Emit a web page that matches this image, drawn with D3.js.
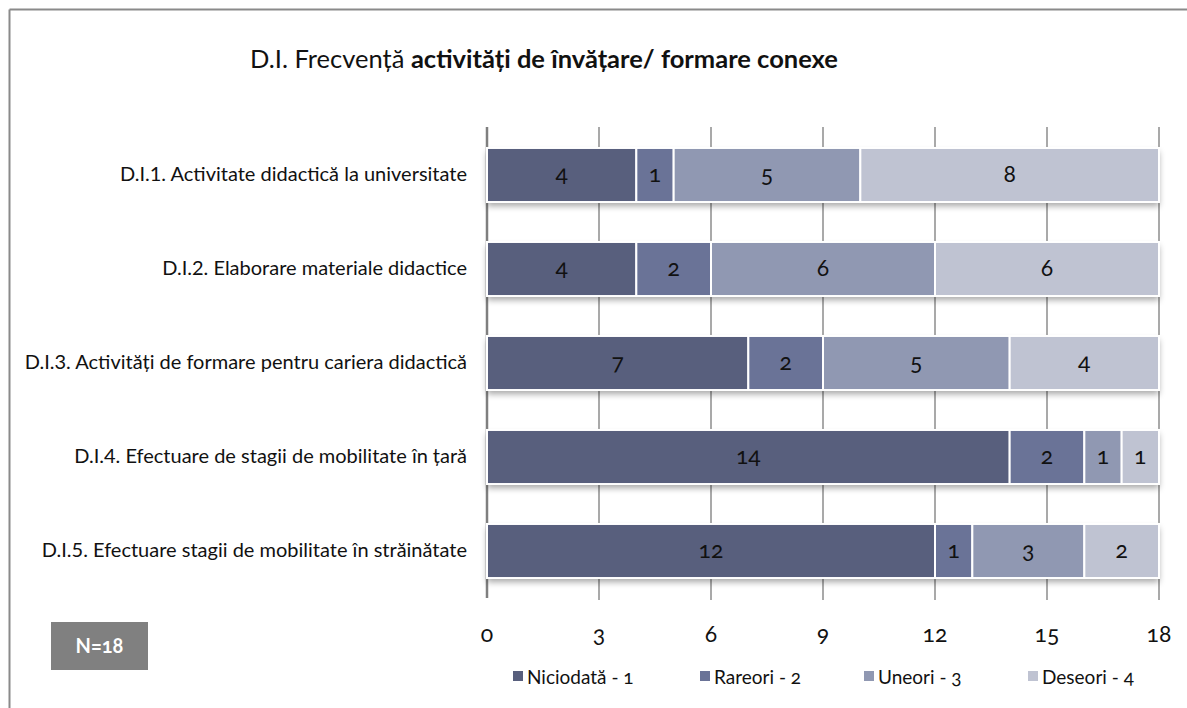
<!DOCTYPE html>
<html>
<head>
    <meta charset="utf-8">
    <script src="https://d3js.org/d3.v7.min.js"></script>
    <style>
        body { margin: 0; background: #fff; }
        svg { display: block; font-family: Lato, "Open Sans", sans-serif; }
        .num { font-variant-numeric: oldstyle-nums; font-feature-settings: "onum"; }
    </style>
</head>
<body>
    <svg id="chart" width="1187" height="708"></svg>

    <script>
        // categories, top to bottom
        const categories = [
            "D.I.1. Activitate didactică la universitate",
            "D.I.2. Elaborare materiale didactice",
            "D.I.3. Activități de formare pentru cariera didactică",
            "D.I.4. Efectuare de stagii de mobilitate în țară",
            "D.I.5. Efectuare stagii de mobilitate în străinătate"
        ];

        const seriesNames = ["Niciodată - 1", "Rareori - 2", "Uneori - 3", "Deseori - 4"];
        const seriesColors = ["#585f7d", "#6a7397", "#9098b2", "#bfc3d2"];

        // values per series (same order as categories)
        const niciodata = [4, 4, 7, 14, 12];
        const rareori = [1, 2, 2, 2, 1];
        const uneori = [5, 6, 5, 1, 3];
        const deseori = [8, 6, 4, 1, 2];

        const tickValues = [0, 3, 6, 9, 12, 15, 18];

        const svg = d3.select("svg");

        // frame (top and left edges only, like the original)
        svg.append("line").attr("x1", 9.5).attr("x2", 1187).attr("y1", 9.5).attr("y2", 9.5)
            .attr("stroke", "#8a8a8a").attr("stroke-width", 2);
        svg.append("line").attr("x1", 9.5).attr("x2", 9.5).attr("y1", 9.5).attr("y2", 708)
            .attr("stroke", "#8a8a8a").attr("stroke-width", 2);

        // title
        const title = svg.append("text")
            .attr("x", 544).attr("y", 68)
            .attr("text-anchor", "middle")
            .attr("font-size", "25.5px")
            .attr("fill", "#111");
        title.append("tspan").text("D.I. Frecvență ");
        title.append("tspan").attr("font-weight", "bold").text("activități de învățare/ formare conexe");

        // scales
        const x = d3.scaleLinear().domain([0, 18]).range([487, 1159]);
        const y = d3.scaleBand().domain(categories).range([128, 598]).paddingInner(0.425).paddingOuter(0.2125);

        // shadow filter under bars
        const defs = svg.append("defs");
        const f = defs.append("filter").attr("id", "shadow")
            .attr("x", "-5%").attr("y", "-20%").attr("width", "110%").attr("height", "160%");
        f.append("feDropShadow").attr("dx", 0).attr("dy", 4).attr("stdDeviation", 3)
            .attr("flood-color", "#000").attr("flood-opacity", 0.35);

        // gridlines
        svg.append("g")
            .selectAll("line")
            .data(tickValues)
            .join("line")
            .attr("x1", d => x(d)).attr("x2", d => x(d))
            .attr("y1", 127).attr("y2", d => d === 0 ? 598 : 600)
            .attr("stroke", d => d === 0 ? "#7f7f7f" : "#8c8c8c")
            .attr("stroke-width", d => d === 0 ? 2.5 : 1.5);

        // stack
        const table = categories.map((c, i) => ({
            cat: c,
            "Niciodată - 1": niciodata[i],
            "Rareori - 2": rareori[i],
            "Uneori - 3": uneori[i],
            "Deseori - 4": deseori[i]
        }));
        const stacked = d3.stack().keys(seriesNames)(table);

        // bar backing with shadow
        svg.append("g")
            .attr("filter", "url(#shadow)")
            .selectAll("rect")
            .data(table)
            .join("rect")
            .attr("x", x(0))
            .attr("y", d => y(d.cat))
            .attr("width", d => x(seriesNames.reduce((s, k) => s + d[k], 0)) - x(0))
            .attr("height", y.bandwidth())
            .attr("fill", "#fff");

        const layers = svg.append("g")
            .selectAll("g")
            .data(stacked)
            .join("g")
            .attr("fill", (d, i) => seriesColors[i]);

        layers.selectAll("rect")
            .data(d => d)
            .join("rect")
            .attr("x", d => x(d[0]))
            .attr("y", d => y(d.data.cat))
            .attr("width", d => x(d[1]) - x(d[0]))
            .attr("height", y.bandwidth())
            .attr("stroke", "#fff")
            .attr("stroke-width", 2);

        // value labels
        layers.selectAll("text")
            .data(d => d)
            .join("text")
            .attr("class", "num")
            .attr("x", d => (x(d[0]) + x(d[1])) / 2)
            .attr("y", d => y(d.data.cat) + y.bandwidth() / 2 + 7)
            .attr("text-anchor", "middle")
            .attr("font-size", "23px")
            .attr("fill", "#111")
            .text(d => d[1] - d[0]);

        // category labels
        svg.append("g")
            .selectAll("text")
            .data(categories)
            .join("text")
            .attr("x", 467)
            .attr("y", d => y(d) + y.bandwidth() / 2 + 6)
            .attr("text-anchor", "end")
            .attr("font-size", "20px")
            .attr("fill", "#111")
            .text(d => d);

        // x tick labels
        svg.append("g")
            .selectAll("text")
            .data(tickValues)
            .join("text")
            .attr("class", "num")
            .attr("x", d => x(d))
            .attr("y", 642)
            .attr("text-anchor", "middle")
            .attr("font-size", "23px")
            .attr("fill", "#111")
            .text(d => d);

        // legend
        const legendX = [513, 700, 864, 1028];
        const legend = svg.append("g")
            .selectAll("g")
            .data(seriesNames)
            .join("g")
            .attr("transform", (d, i) => `translate(${legendX[i]},684)`);
        legend.append("rect")
            .attr("x", 0).attr("y", -13).attr("width", 10).attr("height", 10)
            .attr("fill", (d, i) => seriesColors[i]);
        legend.append("text")
            .attr("class", "num")
            .attr("x", 14).attr("y", 0)
            .attr("font-size", "19px")
            .attr("fill", "#111")
            .text(d => d);

        // N=18 box
        svg.append("rect")
            .attr("x", 51).attr("y", 622).attr("width", 97).attr("height", 48)
            .attr("fill", "#808080");
        svg.append("text")
            .attr("class", "num")
            .attr("x", 99.5).attr("y", 653)
            .attr("text-anchor", "middle")
            .attr("font-size", "20px")
            .attr("font-weight", "bold")
            .attr("fill", "#fff")
            .text("N=18");
    </script>
</body>
</html>
